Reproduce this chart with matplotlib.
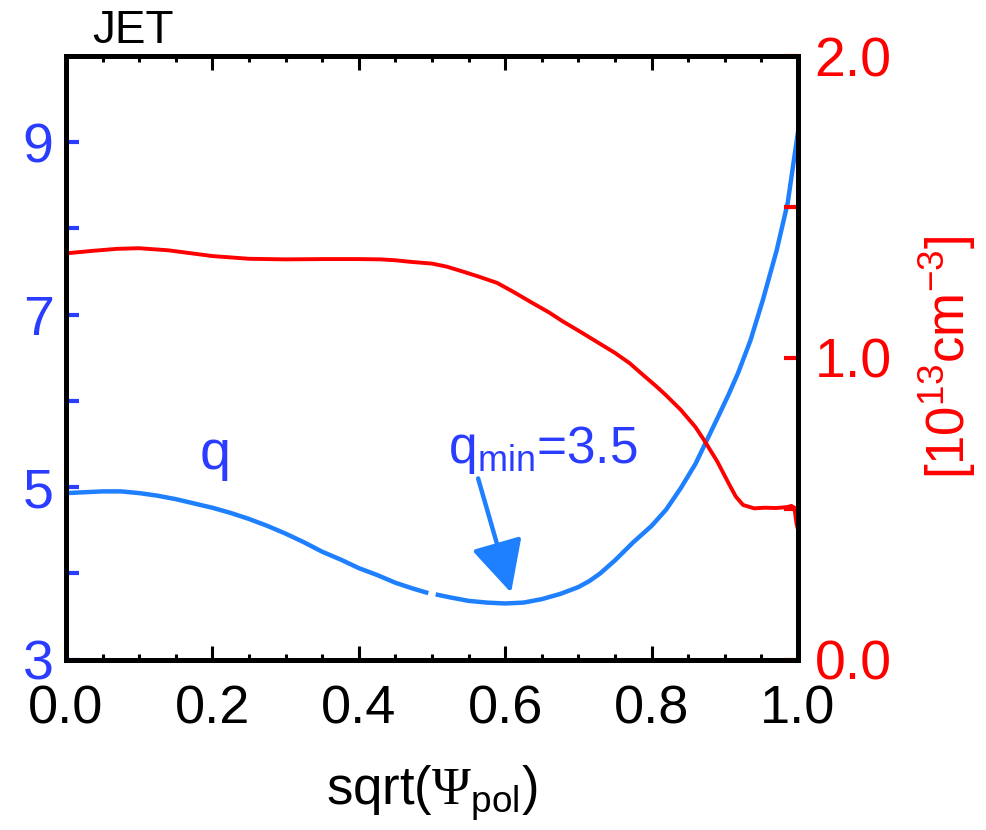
import numpy as np
import matplotlib
matplotlib.use("Agg")
import matplotlib.pyplot as plt
from matplotlib.ticker import MultipleLocator, FixedLocator, FormatStrFormatter

plt.rcParams['font.family'] = ['Liberation Sans', 'DejaVu Sans']
plt.rcParams['mathtext.fontset'] = 'custom'
plt.rcParams['mathtext.rm'] = 'Liberation Sans'
plt.rcParams['mathtext.it'] = 'Liberation Sans:italic'
plt.rcParams['mathtext.sf'] = 'Liberation Sans'
plt.rcParams['mathtext.tt'] = 'Liberation Serif'  # serif Psi like the original

# q profile (left axis), gap near 0.5 as in the original plot
x_q = [0.0, 0.025, 0.05, 0.075, 0.10, 0.125, 0.15, 0.175, 0.20, 0.225, 0.25,
       0.275, 0.30, 0.325, 0.35, 0.375, 0.40, 0.425, 0.45, 0.475, 0.495, 0.50,
       0.505, 0.525, 0.55, 0.575, 0.60, 0.625, 0.65, 0.675, 0.70, 0.715, 0.73,
       0.75, 0.775, 0.80, 0.82, 0.84, 0.86, 0.873, 0.89, 0.905, 0.918, 0.935,
       0.952, 0.971, 0.986, 1.0]
q = [4.93, 4.94, 4.95, 4.95, 4.93, 4.90, 4.86, 4.81, 4.76, 4.70, 4.63,
     4.55, 4.46, 4.36, 4.25, 4.16, 4.06, 3.98, 3.89, 3.82, 3.77, np.nan,
     3.755, 3.72, 3.68, 3.66, 3.65, 3.66, 3.70, 3.76, 3.84, 3.91, 4.00,
     4.15, 4.36, 4.55, 4.74, 4.99, 5.27, 5.50, 5.80, 6.07, 6.32, 6.70,
     7.17, 7.75, 8.30, 9.12]

# density profile (right axis) in 1e13 cm^-3
x_n = [0.0, 0.035, 0.07, 0.10, 0.14, 0.20, 0.25, 0.30, 0.35, 0.40, 0.43,
       0.45, 0.47, 0.50, 0.52, 0.543, 0.565, 0.589, 0.61, 0.634, 0.66, 0.679,
       0.70, 0.725, 0.75, 0.77, 0.785, 0.807, 0.82, 0.84, 0.86, 0.873, 0.89,
       0.905, 0.915, 0.925, 0.94, 0.955, 0.97, 0.985, 0.991, 0.995, 0.998, 1.0]
n_e = [1.346, 1.354, 1.361, 1.363, 1.356, 1.337, 1.328, 1.326, 1.327, 1.327,
       1.326, 1.323, 1.318, 1.312, 1.302, 1.285, 1.268, 1.248, 1.220, 1.186,
       1.150, 1.120, 1.090, 1.053, 1.016, 0.982, 0.950, 0.904, 0.875, 0.827,
       0.770, 0.722, 0.655, 0.585, 0.540, 0.512, 0.501, 0.503, 0.502, 0.505,
       0.509, 0.503, 0.450, 0.430]

# annotation
qmin_text = 'q$_{\\mathrm{min}}$=3.5'
arrow_tail = (0.563, 5.10)
arrow_tip = (0.608, 3.775)

BLUE_TXT = '#2a3cff'
BLUE_LINE = '#1e80ff'
RED = '#ff0000'

fig = plt.figure(figsize=(9.86, 8.3), dpi=100)
ax = fig.add_axes([66 / 986, 1 - 659.5 / 830, 732 / 986, 603.5 / 830])
ax2 = ax.twinx()

ax.plot(x_q, q, color=BLUE_LINE, lw=3.2, solid_capstyle='butt',
        solid_joinstyle='round')
ax2.plot(x_n, n_e, color=RED, lw=2.8, solid_joinstyle='round')

ax.set_xlim(0, 1)
ax.set_ylim(3, 10)
ax2.set_ylim(0, 2)

# x ticks, bottom and top, inward
ax.xaxis.set_major_locator(MultipleLocator(0.2))
ax.xaxis.set_minor_locator(MultipleLocator(0.05))
ax.tick_params(axis='x', which='both', direction='in', top=True, bottom=True,
               labelsize=39, pad=18, colors='black')
ax.tick_params(axis='x', which='major', length=10, width=2.2)
ax.tick_params(axis='x', which='minor', length=4, width=2.2)

# left axis: q
ax.yaxis.set_major_locator(FixedLocator([3, 5, 7, 9]))
ax.yaxis.set_minor_locator(FixedLocator([4, 6, 8]))
ax.tick_params(axis='y', which='both', direction='in', length=9, width=3,
               color=BLUE_TXT, labelcolor=BLUE_TXT, labelsize=40, pad=9,
               right=False)

# right axis: density
ax2.yaxis.set_major_locator(FixedLocator([0, 1, 2]))
ax2.yaxis.set_minor_locator(FixedLocator([0.5, 1.5]))
ax2.yaxis.set_major_formatter(FormatStrFormatter('%.1f'))
ax2.tick_params(axis='y', which='both', direction='in', length=10, width=3,
                color=RED, labelcolor=RED, labelsize=40, pad=12)
ax2.set_ylabel('[10$^{13}$cm$^{-3}$]', color=RED, fontsize=38, labelpad=18)

for a in (ax, ax2):
    for s in a.spines.values():
        s.set_linewidth(3.5)
        s.set_color('black')

ax.set_xlabel('sqrt($\\mathtt{\\Psi}_{\\mathrm{pol}}$)', fontsize=38, labelpad=21)

ax.text(0.204, 5.37, 'q', color=BLUE_TXT, fontsize=40, ha='center', va='center')
ax.text(0.652, 5.28, qmin_text, color=BLUE_TXT, fontsize=37, ha='center',
        va='baseline')
ax.annotate('', xy=arrow_tip, xytext=arrow_tail,
            arrowprops=dict(arrowstyle='-|>,head_length=1.6,head_width=0.8',
                            color=BLUE_LINE, lw=3.2, shrinkA=0, shrinkB=0,
                            mutation_scale=20))

fig.text(92 / 986, 1 - 43 / 830, 'JET', fontsize=33, ha='left', va='baseline')

fig.savefig('out.png', dpi=100)
